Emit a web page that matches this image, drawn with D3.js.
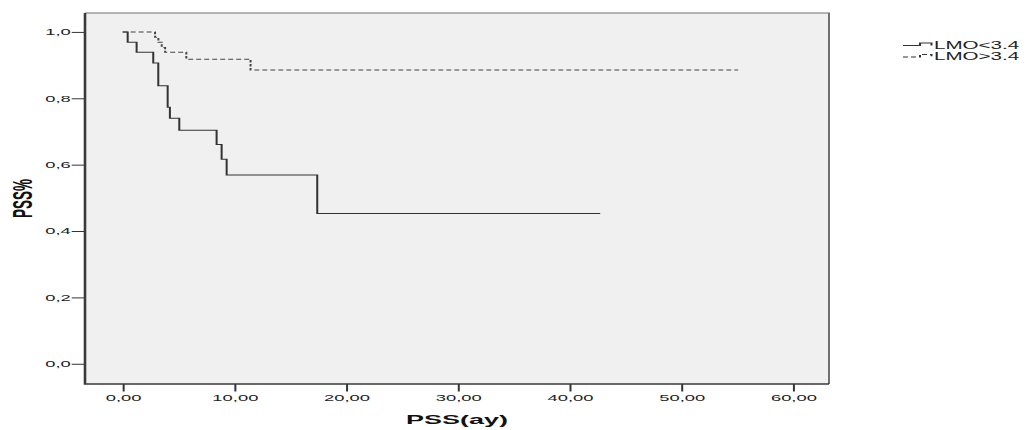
<!DOCTYPE html>
<html>
<head>
<meta charset="utf-8">
<script src="https://cdn.jsdelivr.net/npm/d3@7"></script>
<style>
  body { margin: 0; background: #fff; }
  svg { display: block; font-family: "Liberation Sans", Arial, sans-serif; }
</style>
</head>
<body>
<svg id="chart" width="1027" height="430"></svg>
<script>
// Kaplan-Meier steps, time in months (ay) and proportion surviving
var lowTimes  = [0, 0.45, 1.25, 2.74, 3.19, 4.03, 4.23, 5.07, 8.41, 8.86, 9.31, 17.42, 42.75];
var lowSurv   = [1.0, 0.969, 0.939, 0.906, 0.838, 0.773, 0.740, 0.704, 0.661, 0.616, 0.569, 0.453, 0.453];
var highTimes = [0, 2.9, 3.2, 3.5, 3.8, 5.7, 11.45, 55.1];
var highSurv  = [1.0, 0.984, 0.969, 0.953, 0.939, 0.918, 0.885, 0.885];

var xTicks = [0, 10, 20, 30, 40, 50, 60];
var yTicks = [0, 0.2, 0.4, 0.6, 0.8, 1.0];
var seriesNames = ['LMO<3.4', 'LMO>3.4'];

// the original SPSS picture is stretched sideways, so draw in a half-width space
var SX = 2;
var pLeft = 85, pRight = 829, pTop = 13, pBottom = 384;

var svg = d3.select('#chart');
var g = svg.append('g').attr('transform', 'scale(' + SX + ',1)');

var x = d3.scaleLinear().domain([-3.37, 63.23]).range([pLeft / SX, pRight / SX]);
var y = d3.scaleLinear().domain([-0.061, 1.057]).range([pBottom, pTop]);

var loc = d3.formatLocale({decimal: ',', thousands: '.', grouping: [3], currency: ['', '']});

// plot background and frame
g.append('rect')
    .attr('x', pLeft / SX).attr('y', pTop)
    .attr('width', (pRight - pLeft) / SX).attr('height', pBottom - pTop)
    .attr('fill', '#f0f0f0');
g.append('path')
    .attr('d', 'M' + pLeft / SX + ',' + pTop + 'H' + pRight / SX + 'V' + pBottom)
    .attr('fill', 'none').attr('stroke', '#707070').attr('stroke-width', 1);

// axes
var xAxis = g.append('g')
    .attr('transform', 'translate(0,' + pBottom + ')')
    .call(d3.axisBottom(x).tickValues(xTicks).tickFormat(loc.format('.2f'))
        .tickSize(7.5).tickSizeOuter(0).tickPadding(3));
var yAxis = g.append('g')
    .attr('transform', 'translate(' + pLeft / SX + ',0)')
    .call(d3.axisLeft(y).tickValues(yTicks).tickFormat(loc.format('.1f'))
        .tickSize(6.65).tickSizeOuter(0).tickPadding(0.5));

[xAxis, yAxis].forEach(function(a) {
    a.select('.domain').remove();
    a.attr('font-family', null).attr('font-size', null);
    a.selectAll('line').attr('stroke', '#333').attr('stroke-width', 1);
    a.selectAll('text').attr('fill', '#222').style('font-size', '9.2px');
});

g.append('path')
    .attr('d', 'M' + pLeft / SX + ',' + pTop + 'V' + pBottom + 'H' + pRight / SX)
    .attr('fill', 'none').attr('stroke', '#3a3a3a').attr('stroke-width', 1.3);

// axis titles
g.append('text')
    .attr('x', (pLeft + pRight) / 2 / SX).attr('y', 424)
    .attr('text-anchor', 'middle')
    .style('font-size', '13.5px').style('font-weight', 'bold').attr('fill', '#111')
    .text('PSS(ay)');
g.append('text')
    .attr('transform', 'translate(' + 31.5 / SX + ',' + (pTop + pBottom) / 2 + ') rotate(-90)')
    .attr('text-anchor', 'middle')
    .style('font-size', '13.5px').style('font-weight', 'bold').attr('fill', '#111')
    .text('PSS%');

// survival curves
var line = d3.line()
    .x(function(d) { return x(d[0]); })
    .y(function(d) { return y(d[1]); })
    .curve(d3.curveStepAfter);

g.append('path')
    .datum(d3.zip(lowTimes, lowSurv))
    .attr('d', line)
    .attr('fill', 'none').attr('stroke', '#333').attr('stroke-width', 1);

g.append('path')
    .datum(d3.zip(highTimes, highSurv))
    .attr('d', line)
    .attr('fill', 'none').attr('stroke', '#444').attr('stroke-width', 1)
    .attr('stroke-dasharray', '2.5,1.5');

// legend
var leg = g.selectAll('.leg').data(seriesNames).enter().append('g')
    .attr('class', 'leg')
    .attr('transform', function(d, i) { return 'translate(0,' + (45.5 + i * 11.5) + ')'; });
leg.append('path')
    .attr('d', 'M' + 903 / SX + ',0H' + 920 / SX + 'V-2.5H' + 931.5 / SX + 'V0')
    .attr('fill', 'none').attr('stroke', '#333').attr('stroke-width', 1)
    .attr('stroke-dasharray', function(d, i) { return i ? '2.5,1.5' : null; });
leg.append('text')
    .attr('x', 934 / SX).attr('y', 3)
    .style('font-size', '10.3px').attr('fill', '#222')
    .text(function(d) { return d; });
</script>
</body>
</html>
